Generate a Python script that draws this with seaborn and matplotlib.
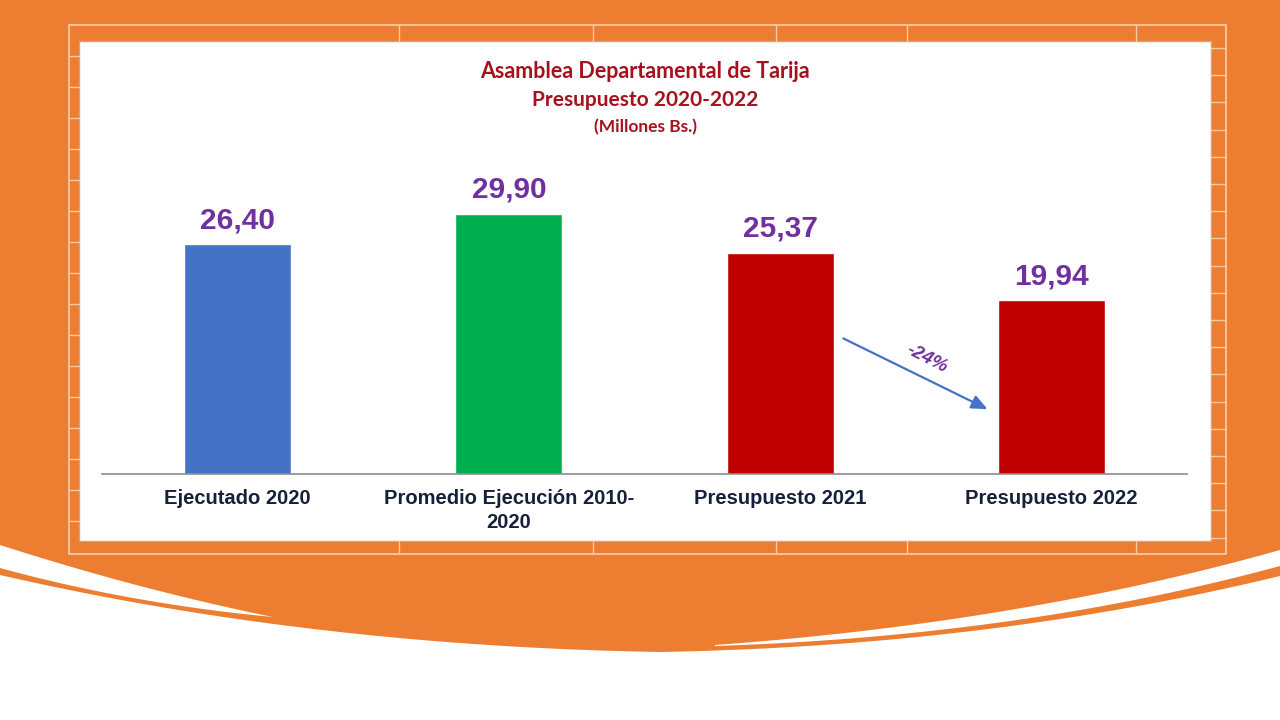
import numpy as np
import pandas as pd
import matplotlib.pyplot as plt
import seaborn as sns
from matplotlib.patches import Polygon, Rectangle

# datos del grafico (Millones Bs.)
categorias = ["Ejecutado 2020", "Promedio Ejecución 2010-\n2020",
              "Presupuesto 2021", "Presupuesto 2022"]
valores = [26.40, 29.90, 25.37, 19.94]
etiquetas = ["26,40", "29,90", "25,37", "19,94"]
colores = ["#4472C4", "#00B050", "#C00000", "#C00000"]
variacion = "-24%"

titulo = ["Asamblea Departamental de Tarija", "Presupuesto 2020-2022", "(Millones Bs.)"]

sns.set_theme(style="white")
plt.rcParams["font.family"] = ["Liberation Sans", "DejaVu Sans"]

naranja = "#ED7D31"
linea_clara = "#F9C9A6"

fig = plt.figure(figsize=(12.8, 7.2), dpi=100)
fig.patch.set_facecolor("white")

# ---- fondo decorativo (coordenadas en pixeles) ----
bg = fig.add_axes([0, 0, 1, 1], zorder=0)
bg.set_xlim(0, 1280)
bg.set_ylim(720, 0)
bg.axis("off")


def bez(p0, c, p2, n=60):
    t = np.linspace(0, 1, n)[:, None]
    p0, c, p2 = np.array(p0), np.array(c), np.array(p2)
    return (1 - t) ** 2 * p0 + 2 * (1 - t) * t * c + t ** 2 * p2


borde_inf = np.vstack([bez((0, 575), (310, 646), (660, 652)),
                       bez((660, 652), (990, 646), (1280, 576))])
fondo = np.vstack([[[0, 0], [1280, 0]], borde_inf[::-1]])
bg.add_patch(Polygon(fondo, closed=True, fc=naranja, ec="none"))

# franjas blancas
izq = np.vstack([bez((0, 545), (140, 590), (273, 617)),
                 bez((273, 617), (129.5, 603.5), (0, 568))])
bg.add_patch(Polygon(izq, closed=True, fc="white", ec="none"))
der = np.vstack([bez((715, 645), (1022.5, 622.5), (1280, 550)),
                 bez((1280, 566), (1022.5, 636), (715, 646))])
bg.add_patch(Polygon(der, closed=True, fc="white", ec="none"))

# marco con lineas claras
bg.add_patch(Rectangle((69, 25), 1157, 529, fc="none", ec=linea_clara, lw=1.3))
for y in np.arange(56, 541, 31):
    bg.plot([69, 79], [y, y], color=linea_clara, lw=1.0)
for y in np.arange(48, 541, 27.2):
    bg.plot([1211, 1226], [y, y], color=linea_clara, lw=1.0)
for x in [399, 593, 776, 907, 1136]:
    bg.plot([x, x], [25, 41], color=linea_clara, lw=1.0)
    bg.plot([x, x], [541, 554], color=linea_clara, lw=1.0)
bg.add_patch(Rectangle((79, 41), 1132, 500, fc="white", ec="#D9A07A", lw=1))

# ---- grafico de barras ----
df = pd.DataFrame({"categoria": categorias, "valor": valores})
ax = fig.add_axes([102 / 1280, 1 - 474 / 720, 1085 / 1280, 433 / 720], zorder=1)
ax.patch.set_alpha(0)
sns.barplot(data=df, x="categoria", y="valor", hue="categoria",
            palette=colores, width=0.395, legend=False, saturation=1, ax=ax)
ax.set_xlim(-0.5, 3.5)
ax.set_ylim(0, 49.7)
ax.set_xlabel("")
ax.set_ylabel("")
ax.set_yticks([])
for s in ["top", "left", "right"]:
    ax.spines[s].set_visible(False)
ax.spines["bottom"].set_color("#8C8C8C")
ax.spines["bottom"].set_linewidth(1.2)
ax.tick_params(axis="x", length=0, pad=11)
for lab in ax.get_xticklabels():
    lab.set_fontweight("bold")
    lab.set_fontsize(14.5)
    lab.set_color("#17203A")
    lab.set_multialignment("center")
    lab.set_linespacing(1.3)

for i, (v, t) in enumerate(zip(valores, etiquetas)):
    ax.annotate(t, (i, v), xytext=(0, 11.5), textcoords="offset points",
                ha="center", va="baseline", fontsize=21.5, fontweight="bold",
                color="#7030A0")

# flecha de variacion entre 2021 y 2022
ax.annotate("", xy=(2.774, 7.3), xytext=(2.224, 15.7),
            arrowprops=dict(arrowstyle="-|>,head_length=0.8,head_width=0.35",
                            color="#4472C4", lw=1.6))
ax.text(2.54, 13.2, variacion, rotation=-27, ha="center", va="center",
        fontsize=13.5, fontstyle="italic", fontweight="bold", color="#7030A0")

# titulo
tit_font = ["Lato", "DejaVu Sans"]
ax.text(0.504, 1 - 72 / 720, titulo[0], transform=fig.transFigure, ha="center",
        va="center", fontsize=15.5, fontweight="bold", color="#A5121E", family=tit_font)
ax.text(0.504, 1 - 100 / 720, titulo[1], transform=fig.transFigure, ha="center",
        va="center", fontsize=15, fontweight="bold", color="#A5121E", family=tit_font)
ax.text(0.504, 1 - 127 / 720, titulo[2], transform=fig.transFigure, ha="center",
        va="center", fontsize=12.5, fontweight="bold", color="#A5121E", family=tit_font)

fig.savefig("out.png", dpi=100)
